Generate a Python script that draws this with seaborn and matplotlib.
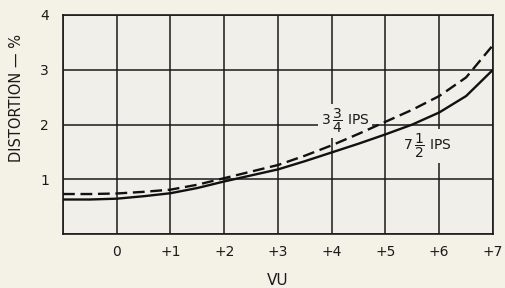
import matplotlib
matplotlib.use("Agg")
import matplotlib.pyplot as plt
import seaborn as sns
import pandas as pd

vu = [-1, -0.5, 0, 0.5, 1, 1.5, 2, 2.5, 3, 3.5, 4, 4.5, 5, 5.5, 6, 6.5, 7]
ips_7_5 = [0.63, 0.63, 0.645, 0.69, 0.745, 0.84, 0.96, 1.07, 1.18, 1.33, 1.49, 1.65, 1.82, 2.0, 2.22, 2.52, 3.0]
ips_3_75 = [0.73, 0.73, 0.74, 0.77, 0.81, 0.90, 1.02, 1.14, 1.26, 1.43, 1.62, 1.83, 2.05, 2.27, 2.52, 2.86, 3.45]
x_ticks = [-1, 0, 1, 2, 3, 4, 5, 6, 7]
x_labels = ["", "0", "+1", "+2", "+3", "+4", "+5", "+6", "+7"]
y_ticks = [0, 1, 2, 3, 4]
y_labels = ["", "1", "2", "3", "4"]

sns.set_theme(style="white")
plt.rcParams["font.family"] = ["DejaVu Sans"]
plt.rcParams["mathtext.fontset"] = "dejavusans"

fig = plt.figure(figsize=(5.06, 2.88), dpi=100, facecolor="#f4f2e6")
ax = fig.add_axes([63/506, 1-234/288, 430/506, 219/288])
ax.set_facecolor("#f0efea")

df = pd.DataFrame({"VU": vu, "d75": ips_7_5, "d375": ips_3_75})
sns.lineplot(data=df, x="VU", y="d75", ax=ax, color="#111111", linewidth=1.7, zorder=4)
sns.lineplot(data=df, x="VU", y="d375", ax=ax, color="#111111", linewidth=1.7, zorder=4)
ax.lines[-1].set_dashes((5, 2.4))

ax.set_xlim(-1, 7)
ax.set_ylim(0, 4)
ax.set_xticks(x_ticks)
ax.set_xticklabels(x_labels)
ax.set_yticks(y_ticks)
ax.set_yticklabels(y_labels)
ax.tick_params(axis="both", length=0, labelsize=10, colors="#1a1a1a")
ax.tick_params(axis="x", pad=8)
ax.tick_params(axis="y", pad=10)
ax.set_axisbelow(True)
ax.grid(True, color="#1a1a1a", linewidth=1.1)
for s in ax.spines.values():
    s.set_visible(True)
    s.set_color("#1a1a1a")
    s.set_linewidth(1.2)

ax.set_xlabel("VU", fontsize=11, color="#1a1a1a", labelpad=10)
ax.set_ylabel("")
fig.text(17/506, 1-98/288, "DISTORTION — %", rotation=90, ha="center", va="center",
         fontsize=10.5, color="#1a1a1a")

box = dict(facecolor="#f0efea", edgecolor="none", pad=2)
ax.text(4.25, 2.06, r"$3\,\dfrac{3}{4}$ IPS", ha="center", va="center", fontsize=10,
        color="#1a1a1a", bbox=box, zorder=3)
ax.text(5.77, 1.61, r"$7\,\dfrac{1}{2}$ IPS", ha="center", va="center", fontsize=10,
        color="#1a1a1a", bbox=box, zorder=3)

fig.savefig("out.png", dpi=100, facecolor=fig.get_facecolor())
